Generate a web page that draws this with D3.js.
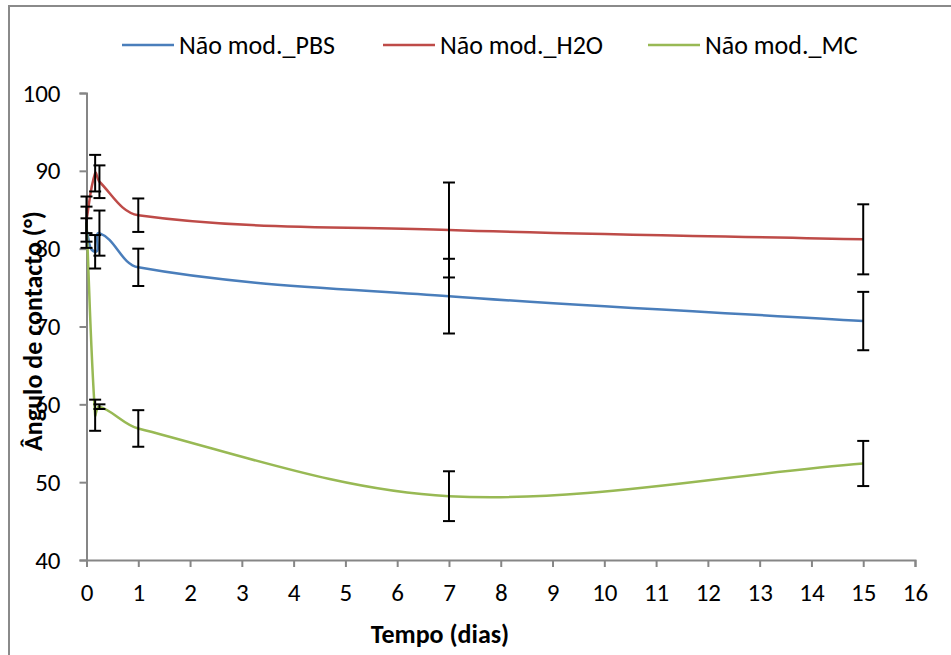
<!DOCTYPE html>
<html>
<head>
<meta charset="utf-8">
<script src="https://cdn.jsdelivr.net/npm/d3@7"></script>
<style>
  body { margin: 0; background: #fff; }
  svg { display: block; font-family: Carlito, "Open Sans", sans-serif; }
</style>
</head>
<body>
<svg id="chart" width="951" height="655"></svg>
<script>
// time points (days) and measured contact angles
const days = [0, 0.167, 0.25, 1, 7, 15];
const pbs = [82.4, 79.6, 82.0, 77.6, 73.9, 70.7];
const pbsErr = [1.5, 2.15, 2.9, 2.4, 4.8, 3.75];
const h2o = [83.7, 89.7, 88.6, 84.3, 82.4, 81.2];
const h2oErr = [1.7, 2.35, 2.1, 2.15, 6.1, 4.5];
const mc = [83.4, 58.6, 59.7, 56.9, 48.2, 52.4];
const mcErr = [3.3, 2.0, 0.3, 2.35, 3.2, 2.9];

const xTicks = d3.range(0, 17, 1);
const yTicks = [40, 50, 60, 70, 80, 90, 100];

const seriesNames = ["Não mod._PBS", "Não mod._H2O", "Não mod._MC"];
const seriesColors = ["#4a7ebb", "#be4b48", "#98b954"];

const series = [
  { name: seriesNames[0], color: seriesColors[0], values: pbs, err: pbsErr },
  { name: seriesNames[1], color: seriesColors[1], values: h2o, err: h2oErr },
  { name: seriesNames[2], color: seriesColors[2], values: mc, err: mcErr },
];

const svg = d3.select("#chart");

// outer chart border
svg.append("rect")
  .attr("x", 9).attr("y", 6)
  .attr("width", 960).attr("height", 670)
  .attr("fill", "none")
  .attr("stroke", "#8a8a8a")
  .attr("stroke-width", 2);

const x = d3.scaleLinear().domain([0, 16]).range([86.5, 915]);
const y = d3.scaleLinear().domain([40, 100]).range([560, 93]);

// axes
const xAxis = svg.append("g")
  .attr("transform", `translate(0,${y(40)})`)
  .call(d3.axisBottom(x).tickValues(xTicks).tickSize(7).tickPadding(16).tickFormat(d3.format("d")));
const yAxis = svg.append("g")
  .attr("transform", `translate(${x(0)},0)`)
  .call(d3.axisLeft(y).tickValues(yTicks).tickSize(7).tickPadding(19).tickFormat(d3.format("d")));

[xAxis, yAxis].forEach((g) => {
  g.select(".domain").attr("stroke", "#868686").attr("stroke-width", 2);
  g.selectAll(".tick line").attr("stroke", "#868686").attr("stroke-width", 2);
  g.selectAll(".tick text").attr("fill", "#000").style("font-size", "25px")
    .style("font-family", 'Carlito, "Open Sans", sans-serif');
});

// axis titles
svg.append("text")
  .attr("x", 440).attr("y", 643)
  .attr("text-anchor", "middle")
  .style("font-size", "26px").style("font-weight", "bold")
  .text("Tempo (dias)");

svg.append("text")
  .attr("transform", `translate(42,331) rotate(-90)`)
  .attr("text-anchor", "middle")
  .style("font-size", "26px").style("font-weight", "bold")
  .text("Ângulo de contacto (°)");

// smooth line like a spreadsheet: tangent along neighbours, handle = 1/3 of segment
function smoothPath(pts) {
  const p = d3.path();
  const unit = (a, b) => {
    const dx = b[0] - a[0], dy = b[1] - a[1];
    const l = Math.hypot(dx, dy) || 1;
    return [dx / l, dy / l];
  };
  const tan = pts.map((pt, i) => {
    const a = pts[Math.max(0, i - 1)];
    const b = pts[Math.min(pts.length - 1, i + 1)];
    return unit(a, b);
  });
  p.moveTo(pts[0][0], pts[0][1]);
  for (let i = 0; i < pts.length - 1; i++) {
    const a = pts[i], b = pts[i + 1];
    const h = Math.hypot(b[0] - a[0], b[1] - a[1]) / 3;
    p.bezierCurveTo(
      a[0] + tan[i][0] * h, a[1] + tan[i][1] * h,
      b[0] - tan[i + 1][0] * h, b[1] - tan[i + 1][1] * h,
      b[0], b[1]
    );
  }
  return p.toString();
}

series.forEach((s) => {
  const pts = days.map((t, i) => [x(t), y(s.values[i])]);
  svg.append("path")
    .attr("fill", "none")
    .attr("stroke", s.color)
    .attr("stroke-width", 2.5)
    .attr("d", smoothPath(pts));
});

// error bars
const cap = 6;
series.forEach((s) => {
  const g = svg.append("g").attr("stroke", "#000").attr("stroke-width", 2);
  days.forEach((t, i) => {
    const cx = x(t);
    const top = y(s.values[i] + s.err[i]);
    const bot = y(s.values[i] - s.err[i]);
    g.append("line").attr("x1", cx).attr("x2", cx).attr("y1", top).attr("y2", bot);
    g.append("line").attr("x1", cx - cap).attr("x2", cx + cap).attr("y1", top).attr("y2", top);
    g.append("line").attr("x1", cx - cap).attr("x2", cx + cap).attr("y1", bot).attr("y2", bot);
  });
});

// legend
const legendX = [122, 383, 648];
const legend = svg.append("g");
series.forEach((s, i) => {
  legend.append("line")
    .attr("x1", legendX[i]).attr("x2", legendX[i] + 52)
    .attr("y1", 45).attr("y2", 45)
    .attr("stroke", s.color).attr("stroke-width", 2.5);
  legend.append("text")
    .attr("x", legendX[i] + 57).attr("y", 45)
    .attr("dy", "0.34em")
    .style("font-size", "26px")
    .text(s.name);
});
</script>
</body>
</html>
